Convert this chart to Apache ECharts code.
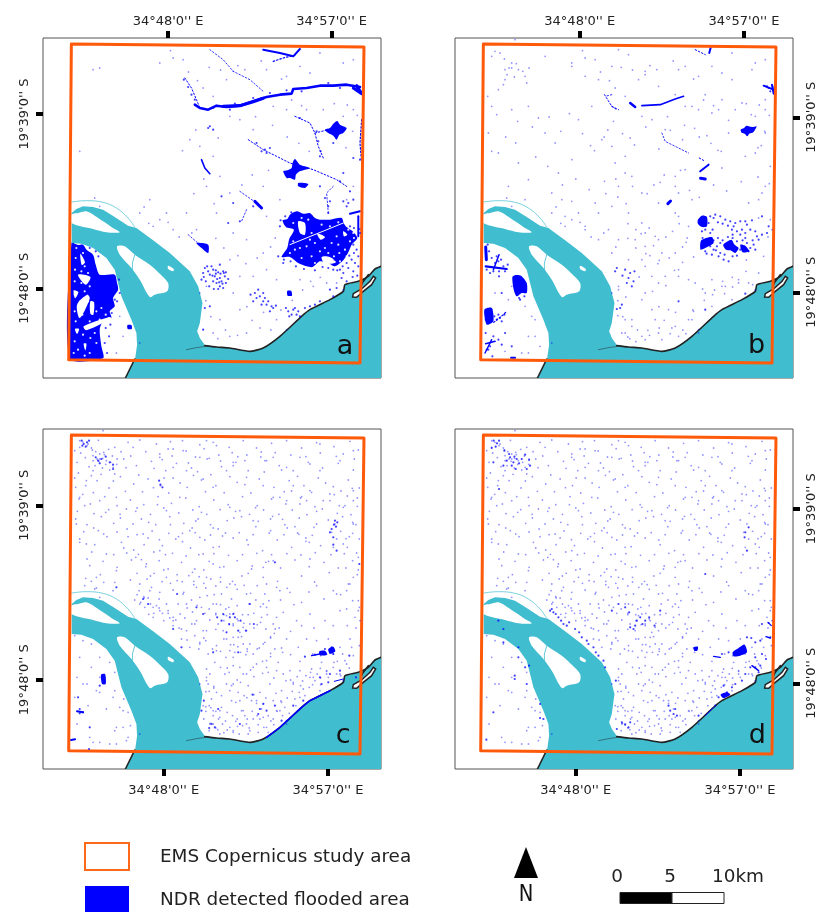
<!DOCTYPE html>
<html><head><meta charset="utf-8">
<style>html,body{margin:0;padding:0;background:#fff;overflow:hidden}#c{width:817px;height:912px;filter:blur(.5px)}</style>
<script src="https://cdn.jsdelivr.net/npm/echarts@6/dist/echarts.min.js"></script>
</head><body><div id="c"></div>
<script>
// ---- Map units: a common raster grid shared by the four panels ----
const lonLabels = ["34°48'0'' E", "34°57'0'' E"];
const latLabels = ["19°39'0'' S", "19°48'0'' S"];
const panelNames = ['a', 'b', 'c', 'd'];
const lonTicksA = [505, 995], lonTicksB = [504, 996], lonTicksC = [492, 984], lonTicksD = [492, 984];
const latTicksA = [343, 866], latTicksB = [353, 878], latTicksC = [344, 867], latTicksD = [354, 878];
const legendLabels = ['EMS Copernicus study area', 'NDR detected flooded area'];
const scaleLabels = ['0', '5', '10km'];

const studyArea = [[215,133],[1092,142],[1080,1090],[207,1080],[215,133]];
const water = [[216,730],[245,732],[280,745],[320,775],[345,810],[355,850],[365,890],[380,925],[395,960],[410,1000],[412,1035],[406,1078],[377,1135],[1143,1135],[1143,800],[1125,808],[1105,830],[1075,845],[1035,855],[1030,875],[990,900],[930,930],[905,950],[840,1010],[790,1045],[750,1055],[690,1045],[650,1042],[615,1036],[600,1015],[592,995],[600,970],[608,910],[595,860],[570,815],[510,760],[460,722],[410,685],[385,678],[345,652],[310,630],[280,622],[250,620],[230,628],[216,640]];
const islandNorth = [[215,645],[235,640],[260,635],[285,648],[310,665],[335,682],[360,698],[320,698],[280,688],[215,670]];
const islandMid = [[352,740],[375,740],[405,765],[450,795],[480,822],[505,850],[502,875],[465,885],[450,892],[420,840],[395,805],[360,765]];
const islandSmall = [[505,798],[522,808],[520,815],[505,808]];
const estuary = [[1060,882],[1085,868],[1110,845],[1120,830],[1127,835],[1115,855],[1090,875],[1070,893],[1058,892],[1060,882]];
const coast = [[615,1038],[650,1042],[690,1045],[750,1055],[790,1045],[840,1010],[905,950],[930,930],[990,900],[1030,875],[1035,855],[1075,845],[1105,830],[1125,808],[1143,800]];
const coastTail = [[560,1050],[590,1044],[618,1040]];
const shoreWest = [[405,1078],[377,1135]];
const estuaryBack = [[1105,825],[1088,848],[1082,862]];
const arc = [[216,607],[260,603],[310,608],[350,625],[385,655],[405,683]];
const channel = [[405,765],[398,790],[398,812]];

// ---- Panel a ----
const polysA = [
 [[975,390],[990,385],[1000,372],[1012,364],[1020,375],[1040,385],[1030,400],[1018,405],[1010,420],[1000,408],[985,400]],
 [[850,515],[862,512],[875,505],[878,490],[885,478],[900,495],[930,505],[900,515],[888,525],[885,540],[870,535],[860,535]],
 [[895,550],[925,553],[915,565],[895,560]],
 [[848,662],[862,658],[870,645],[890,635],[910,642],[930,640],[945,655],[960,660],[990,660],[1025,655],[1032,672],[1040,682],[1058,695],[1072,715],[1055,735],[1045,758],[1030,782],[1005,800],[985,790],[960,785],[938,802],[920,800],[895,790],[870,772],[845,772],[862,745],[868,718],[882,690],[858,682]],
 [[590,730],[625,735],[625,760],[605,745]],
 [[215,730],[235,736],[250,735],[262,752],[280,765],[288,795],[300,825],[345,825],[352,850],[355,870],[340,895],[345,920],[330,935],[335,955],[310,965],[300,990],[305,1040],[310,1076],[210,1076]],
 [[862,874],[874,874],[876,888],[863,888]],
 [[383,976],[395,976],[396,988],[384,988]]
];
const holesA = [
 [[895,665],[915,670],[915,705],[900,700]],[[965,772],[990,772],[1008,788],[975,792]],[[952,702],[975,712],[962,720]],[[1030,695],[1042,705],[1032,710]],
 [[232,915],[262,885],[270,897],[240,955]],[[252,980],[328,952],[336,956],[260,992]],[[235,825],[272,832],[258,855]],[[242,762],[256,788],[246,796]],[[272,905],[283,908],[281,945],[272,942]],[[307,1000],[322,988],[318,1008]],
 [[226,988],[238,988],[232,1003]],[[252,1032],[260,1032],[257,1052]],[[222,872],[236,877],[226,896]]
];
const holeLinesA = [[[870,735],[1030,670]]];
const holeDotsA = [[920,740],[935,770],[905,775],[885,750],[945,730],[975,745],[995,730],[1015,735],[1040,670],[1015,668],[990,680],[965,675],[925,660],[905,655],[880,670],[960,755],[900,745],[880,725],[1060,700],[1040,770],[1020,785],[900,680],[935,700],[985,760],[1010,710],[870,760],[945,790],[930,720],[1050,725],[1035,750],[1062,715],[1045,690],[1018,760],[1002,770],[230,745],[228,775],[250,760],[226,810],[245,815],[255,800],[265,820],[225,845],[245,850],[270,860],[255,875],[225,885],[242,905],[265,905],[225,935],[248,945],[270,965],[290,935],[305,925],[228,965],[250,1005],[225,1025],[235,1050],[272,1015],[285,1000],[290,1030],[270,1060],[300,960],[318,945],[222,1060],[255,1068]];
const linesA = [
 {w:2.6,p:[[585,315],[600,325],[625,330],[650,318],[680,322],[720,318],[760,305],[800,292],[840,285],[875,282],[880,268],[920,265],[960,258],[1000,258],[1040,255],[1080,262]]},
 {w:3.2,p:[[670,320],[720,318],[760,306],[790,296]]},
 {w:3,p:[[1060,265],[1085,282],[1070,258]]},
 {w:1,p:[[555,235],[575,265],[590,300],[600,325]]},
 {w:.8,p:[[630,150],[670,180],[700,215],[750,240],[790,275]]},
 {w:2,p:[[790,150],[840,160],[880,170],[900,148]]},
 {w:1.2,p:[[820,185],[850,175],[890,165]]},
 {w:1,p:[[885,350],[930,370],[945,400],[955,440],[970,475]]},
 {w:1,p:[[945,400],[985,390]]},
 {w:1,p:[[745,420],[790,450],[830,470],[870,490],[940,510],[1010,540],[1040,560]]},
 {w:.8,p:[[1000,560],[980,580],[985,640]]},
 {w:1.6,p:[[605,480],[615,505],[630,522]]},
 {w:.8,p:[[720,575],[770,610]]},{w:3,p:[[765,605],[785,625]]},{w:.8,p:[[740,630],[725,665]]},
 {w:1.2,p:[[1085,360],[1080,430],[1085,490]]},{w:2,p:[[1050,642],[1080,635]]},{w:2,p:[[1075,650],[1075,710]]},
 {w:.8,p:[[565,705],[600,735],[625,760]]}
];
const dotsA = [[615,805],[625,815],[640,810],[655,818],[670,815],[675,830],[660,835],[645,830],[630,825],[650,850],[660,860],[670,865],[665,845],[640,845],[610,820],[635,800],[678,850],[655,868],[622,800],[648,822],[765,880],[780,890],[790,905],[800,915],[815,920],[775,870],[785,915],[805,905],[795,895],[770,895],[820,925],[790,880],[865,935],[880,930],[890,945],[875,945],[895,935],[885,925],[930,920],[945,915],[960,905],[1000,890],[1040,845],[1030,820],[1060,815],[1075,800],[1020,810],[1045,805],[1030,605],[1045,610],[1060,600],[1040,620],[700,610],[760,620],[665,590],[685,670],[720,665],[630,380],[640,390],[625,385],[795,450],[800,460],[810,445],[785,455],[770,430],[900,355],[960,470],[985,640],[975,595],[960,560],[1020,545],[1080,480],[1060,475],[630,920],[615,925],[610,990],[1055,780],[1065,790],[1040,790],[1000,810],[985,805],[1070,750],[1060,735],[1080,700],[835,770],[850,790],
[1062,760],[1048,768],[1075,770],[1028,800],[1012,812],[968,802],[945,812],[912,808],[888,800],[872,785],[852,780],[842,662],[856,650],[874,638],[840,680],[1050,680],[1062,685],[1078,688],[345,900],[352,905],[332,975],[318,985],[328,1010],[315,1030],[322,1060],[336,940],[360,880],[358,840],[296,770],[288,755],[270,745],[605,840],[618,845],[628,860],[642,868],[612,832],[672,820],[685,838],[660,795],[760,905],[752,885],[810,935],[828,918],[858,925],[868,950],[900,950],[915,925],[990,870],[1010,865],[1025,835],[1058,832],[1072,828],[585,300],[575,285],[565,262],[552,240],[640,325],[690,330],[705,312],[760,295],[810,280],[860,272],[905,275],[985,250],[1020,265],[950,395],[955,425],[962,455],[1000,430],[1030,520],[1050,575],[985,620],[990,605],[652,838],[638,828],[668,852],[658,848],[662,822],[648,812],[678,818]];
const specksA = [[280,210],[300,205],[240,455],[480,190],[520,175],[550,180],[700,215],[735,210],[680,240],[610,265],[640,290],[820,320],[860,330],[920,330],[970,330],[1030,350],[1060,330],[690,350],[720,360],[760,390],[570,420],[600,440],[640,470],[660,530],[690,580],[620,560],[560,640],[500,640],[450,600],[420,640],[480,660],[520,690],[460,680],[590,690],[650,640],[700,700],[740,720],[790,760],[690,780],[720,830],[760,830],[800,810],[830,840],[700,880],[720,930],[660,960],[640,1000],[690,1010],[740,1000],[780,985],[830,960],[860,990],[600,880],[620,860],[940,860],[980,850],[1010,850],[900,840],[1060,560],[1040,600],[790,560],[840,600],[800,650],[300,620],[285,595],[420,1030],[360,950],[370,1010],[350,1060],[1060,180],[1030,190],[960,160],[900,200],[930,220],[860,230],[800,210],
[433,622],[447,671],[505,668],[538,712],[576,700],[612,742],[648,716],[672,745],[714,768],[738,792],[772,775],[812,742],[826,715],[618,903],[633,951],[654,1017],[677,991],[713,1007],[757,962],[741,921],[791,938],[813,991],[843,931],[877,902],[908,871],[932,845],[961,833],[1003,781],[1029,871],[512,153],[566,217],[593,243],[628,203],[662,211],[714,198],[784,184],[845,238],[875,301],[905,318],[1003,312],[1042,316],[1072,347],[1058,395],[1038,444],[928,455],[897,431],[862,412],[818,377],[767,351],[655,415],[588,391],[548,453],[612,538],[582,582],[643,612],[726,556],[757,526],[806,512]];

// ---- Panel b ----
const polysB = [
 [[986,390],[996,385],[1004,378],[1020,382],[1034,380],[1024,398],[1012,402],[1006,410],[998,402],[990,400]],
 [[858,660],[870,648],[885,652],[885,680],[870,682],[858,672]],
 [[934,735],[958,720],[968,735],[980,745],[970,760],[955,752],[942,750]],
 [[302,832],[312,826],[328,828],[345,850],[345,880],[330,880],[315,890],[306,870]],
 [[868,722],[900,712],[905,730],[880,745],[866,750]],
 [[218,930],[240,925],[245,965],[225,975]],
 [[985,735],[1000,738],[1012,755],[992,758]]
];
const linesB = [
 {w:1,p:[[578,285],[600,320],[620,330]]},{w:2.4,p:[[655,310],[670,322]]},{w:1.6,p:[[690,318],[745,315],[790,298],[815,290]]},
 {w:2,p:[[865,515],[890,495]]},{w:3,p:[[866,536],[880,538]]},{w:1,p:[[862,475],[880,485]]},{w:3,p:[[768,612],[776,604]]},
 {w:2,p:[[896,145],[892,160]]},{w:1,p:[[850,150],[880,165]]},{w:2,p:[[1055,258],[1085,270]]},{w:2,p:[[1080,255],[1085,282]]},
 {w:3,p:[[222,742],[224,780]]},{w:2.2,p:[[222,800],[285,808]]},{w:1.5,p:[[245,810],[262,765]]},{w:1.6,p:[[222,1032],[250,1025]]},{w:1.4,p:[[220,1060],[240,1020]]},{w:2,p:[[298,1074],[310,1074]]},
 {w:.8,p:[[750,400],[760,425],[800,445],[830,460]]},{w:.8,p:[[600,285],[580,290]]},{w:1.2,p:[[246,968],[275,945],[285,935]]},{w:1,p:[[600,320],[612,328]]}
];
const dotsB = [[895,650],[910,645],[925,650],[940,660],[955,665],[970,670],[985,665],[1000,665],[1020,662],[960,690],[965,680],[985,705],[1000,700],[880,735],[895,740],[905,750],[915,740],[925,730],[945,745],[985,750],[1000,745],[1010,755],[1025,735],[1040,720],[880,755],[920,770],[950,785],[935,780],[895,700],[1000,715],[1070,680],[1050,650],[1030,695],[1015,690],[655,820],[640,810],[615,805],[660,860],[650,835],[625,925],[615,928],[630,915],[260,785],[250,790],[275,800],[235,820],[280,815],[262,830],[240,930],[255,960],[270,965],[260,945],[230,1050],[245,1010],[270,1035],[300,1040],[280,1000],[222,960],[270,880],[325,900],[880,930],[800,905],[1000,882],[1065,260],
[872,715],[888,718],[905,722],[918,715],[932,722],[948,712],[962,715],[975,725],[992,722],[1005,730],[1022,722],[1035,710],[1050,705],[1065,700],[870,742],[884,762],[900,765],[912,752],[925,760],[938,765],[962,770],[975,768],[1015,745],[1030,750],[905,655],[918,668],[932,672],[948,678],[962,705],[975,695],[990,690],[1005,675],[890,670],[902,690],[880,690],[870,695],[668,815],[632,828],[645,850],[665,845],[610,815],[1070,265],[1082,262],[1075,275],[228,735],[232,755],[240,775],[255,770],[268,780],[288,795],[225,810],[245,815],[262,815],[228,945],[235,955],[248,950],[265,955],[278,945],[222,1000],[235,1040],[225,1050],[260,1020],[242,1070],[338,890],[322,895]];
const specksB = [[250,155],[265,160],[240,170],[300,190],[320,210],[340,230],[280,240],[260,270],[240,320],[300,330],[350,320],[380,355],[320,490],[350,540],[440,520],[480,480],[430,430],[400,400],[500,360],[540,320],[560,240],[610,490],[640,520],[620,150],[650,165],[700,225],[740,260],[790,285],[840,320],[880,285],[900,340],[950,400],[1000,470],[1030,460],[930,505],[820,510],[800,580],[740,610],[690,670],[670,720],[700,740],[730,710],[750,760],[790,640],[830,680],[1075,660],[1080,690],[1050,580],[1010,610],[600,620],[550,610],[480,605],[460,650],[520,680],[560,720],[600,760],[620,720],[650,780],[700,800],[740,850],[800,830],[850,850],[880,880],[930,860],[980,840],[1040,820],[960,900],[900,920],[840,960],[860,1000],[790,980],[770,930],[730,960],[690,900],[660,980],[630,1000],[640,960],[700,1020],[750,1020],[800,1010],[620,870],[230,400],[260,460],[290,560],[340,600],[420,580],[310,120],[400,170],[480,200],[520,230],[600,200],[820,200],[960,240],[1020,210],[1060,300],[930,300],[990,310],[1060,400],[1075,500],[300,860],[340,920],[370,960],[385,1040],[350,1010],[330,1060],[280,1055],[250,880],[290,900],
[278,178],[292,205],[314,192],[333,215],[352,205],[286,225],[308,232],[275,255],[345,250],[228,290],[255,345],[318,365],[362,382],[412,352],[447,395],[473,342],[512,402],[536,438],[577,412],[605,365],[632,402],[668,436],[702,382],[741,448],[775,392],[812,420],[848,386],[885,408],[918,452],[950,362],[1018,345],[1048,438],[1072,552],[1038,532],[988,546],[944,574],[905,556],[862,593],[833,572],[790,530],[745,548],[706,582],[662,560],[618,592],[578,545],[532,570],[492,538],[452,556],[408,500],[372,472],[312,430],[282,412],[648,672],[672,690],[688,702],[712,685],[725,738],[702,762],[742,782],[762,712],[782,695],[802,672],[823,728],[845,772],[812,788],[788,812],[762,858],[722,875],[682,832],[642,892],[618,948],[648,1012],[672,1026],[708,992],[742,985],[775,1002],[822,1002],[845,935],[872,868],[902,885],[938,882],[962,862],[1002,815],[1022,855],[1055,770],[1068,712],[1040,655]];

// ---- Panels c and d share the speckle field ----
const fieldSpecks = [[240,150],[262,165],[225,180],[280,195],[312,185],[345,170],[385,155],[420,148],[470,160],[505,175],[548,150],[600,162],[640,155],[688,170],[730,150],[770,172],[815,158],[860,150],[905,172],[950,156],[1002,168],[1050,152],[1075,178],
[232,215],[268,228],[298,212],[330,238],[372,205],[410,225],[455,212],[498,240],[530,218],[575,232],[622,205],[665,228],[708,215],[745,240],[795,210],[838,225],[880,240],[925,215],[968,232],[1015,218],[1060,238],
[225,262],[258,285],[292,270],[328,292],[362,258],[402,280],[445,265],[482,285],[520,262],[562,290],[605,268],[648,285],[690,258],[735,282],[778,265],[822,290],[868,270],[912,285],[955,262],[1000,288],[1045,268],[1078,292],
[238,325],[272,340],[315,318],[352,345],[392,328],[432,342],[475,318],[515,338],[558,322],[598,348],[642,328],[685,342],[728,318],[772,345],[815,325],[858,340],[902,322],[945,348],[990,330],[1035,345],[1072,322],
[228,385],[262,402],[305,378],[342,398],[382,415],[425,385],[468,402],[510,378],[552,398],[595,385],[640,412],[682,390],[725,378],[768,408],[812,385],[855,402],[898,382],[942,410],[985,388],[1005,400],[1028,378],[1068,402],
[240,445],[285,462],[322,438],[365,455],[402,478],[445,442],[488,465],[528,445],[572,472],[615,448],[658,468],[700,442],[745,462],[788,480],[832,448],[875,470],[918,442],[962,465],[995,425],[1010,445],[1042,470],[1078,445],
[262,505],[270,525],[310,512],[352,530],[395,508],[438,528],[478,510],[505,535],[545,515],[585,535],[628,512],[672,528],[712,510],[755,535],[798,515],[842,532],[885,508],[928,528],[972,515],[1015,532],[1058,510],[1075,538],
[255,585],[290,592],[345,575],[392,568],[418,600],[432,618],[455,590],[478,625],[500,560],[520,598],[535,640],[552,605],[575,628],[590,590],[605,650],[622,615],[640,640],[665,610],[678,655],[695,625],[712,645],[728,672],[748,640],[772,585],[795,610],[830,590],[870,605],[905,635],[950,585],[1000,600],[1045,580],[1075,630],
[405,628],[435,650],[462,668],[492,690],[520,705],[545,715],[470,645],[505,660],[555,682],[585,700],[610,720],[630,688],[655,700],[680,675],[700,705],[720,725],[750,700],[785,680],[820,700],[850,665],[890,690],[930,670],[975,690],[1020,660],[1065,680],[1078,650],
[545,745],[570,770],[600,755],[625,790],[650,765],[680,745],[705,785],[730,760],[760,790],[795,755],[825,775],[860,745],[895,770],[920,745],[950,750],[985,745],[1020,770],[1050,745],[1078,765],
[620,835],[645,815],[675,850],[700,825],[730,850],[770,820],[805,845],[835,815],[870,840],[900,812],[935,835],[965,815],[1000,830],[1035,810],[1060,795],
[625,880],[650,905],[680,880],[715,905],[745,885],[780,905],[810,880],[845,900],[880,875],[910,895],[945,870],[985,860],[1020,850],
[610,945],[635,925],[665,950],[695,930],[725,960],[755,930],[785,955],[820,930],[855,950],[885,925],[915,915],
[612,985],[640,975],[668,1000],[698,975],[728,1005],[760,985],[792,1010],[820,985],[848,975],[628,1020],[660,1030],[700,1025],[745,1030],
[225,735],[250,750],[275,760],[300,800],[330,815],[345,845],[240,800],[275,830],[232,860],[262,880],[300,905],[345,900],[372,925],[225,920],[265,945],[320,955],[385,965],[392,1005],[232,1000],[270,1040],[300,1055],[345,1020],[380,1050],
[243,187],[257,201],[275,172],[288,183],[296,149],[309,203],[318,221],[327,176],[338,196],[351,221],[364,183],[379,231],[393,196],[438,183],[463,233],[487,207],[517,196],[559,181],[587,199],[613,174],[657,193],[697,186],[741,193],[783,199],[826,186],[873,193],[918,198],[961,187],[1009,197],[1063,205],
[236,247],[249,311],[281,306],[304,251],[341,271],[377,302],[417,253],[428,303],[461,291],[493,262],[507,307],[541,277],[581,254],[617,303],[633,252],[673,306],[712,275],[753,307],[793,244],[853,303],[893,257],[935,305],[977,277],[1023,301],[1057,293],
[233,362],[283,369],[327,357],[361,371],[408,362],[452,371],[492,352],[537,367],[579,358],[621,371],[661,357],[707,362],[749,371],[791,358],[837,371],[877,358],[921,372],[967,355],[1012,368],[1053,372],
[252,423],[296,420],[352,424],[385,438],[412,432],[433,462],[457,421],[479,447],[507,428],[548,428],[586,426],[632,433],[677,427],[718,426],[760,432],[808,427],[852,432],[893,427],[937,434],[1022,422],[1058,428],
[276,484],[342,492],[381,487],[416,491],[425,507],[462,484],[497,492],[518,488],[559,496],[597,492],[642,489],[686,494],[728,492],[771,488],[815,492],[861,489],[903,493],[946,486],[993,492],[1033,489],[1070,487],
[258,563],[275,572],[302,552],[312,575],[412,548],[442,565],[463,548],[487,573],[512,578],[532,552],[547,573],[567,555],[582,572],[598,558],[612,578],[633,565],[648,586],[662,574],[681,590],[698,572],[712,596],[733,584],[752,608],[768,628],[782,648],[807,630],[842,628],[882,642],[927,604],[972,625],[1022,612],[1058,630],
[412,612],[423,635],[445,622],[452,640],[478,652],[488,668],[510,682],[528,688],[541,670],[562,652],[578,664],[592,644],[615,668],[628,655],[648,668],[662,642],[672,672],[687,650],[702,668],[715,690],[732,698],[745,672],[762,668],[772,702],[798,715],[812,738],[838,712],[872,722],[905,705],[942,712],[1000,705],[1042,705],
[562,748],[585,735],[597,775],[618,750],[638,775],[662,782],[678,800],[692,762],[715,740],[722,785],[742,775],[778,772],[812,798],[848,785],[872,792],[938,790],[962,795],[1000,790],[1028,790],
[630,850],[662,830],[688,845],[712,868],[752,838],[788,848],[822,862],[858,870],[892,858],[918,855],[952,850],[980,842],[1012,812],[1048,832],
[628,902],[642,887],[665,915],[695,885],[708,935],[733,915],[762,912],[770,938],[798,922],[828,908],[862,922],[898,905],[928,890],[962,882],
[618,962],[628,945],[648,962],[656,985],[682,965],[712,985],[735,975],[748,1012],[772,975],[805,975],[832,962],[868,968],[888,945],[632,998],[682,1018],[718,1030],[775,1025],[805,1025]];
const polysC = [[[958,782],[975,780],[982,792],[960,794]],[[304,852],[316,850],[318,880],[307,880]],[[1062,884],[1078,872],[1075,888]],[[985,775],[1000,768],[1006,782],[990,790]]];
const linesC = [{w:1.6,p:[[800,1040],[840,1010],[905,950],[930,930],[990,900]]},{w:1,p:[[1003,872],[1030,865]]},{w:2,p:[[232,962],[250,965]]},{w:2,p:[[214,1048],[226,1046]]},{w:1.4,p:[[935,795],[960,790]]}];
const dotsC = [[246,150],[252,160],[262,155],[258,168],[295,210],[305,205],[300,218],[340,222],[340,235],[482,282],[1005,390],[1012,395],[1000,462],[825,515],[990,425],[680,725],[690,680],[670,670],[715,785],[715,720],[545,770],[635,1000],[645,1010],[780,955],[775,970],[240,955],[250,965],[240,968],[268,1075],[1000,790],[995,770],[975,775],[945,792],[915,798],[910,930],[880,945],[845,990],[700,670],[350,590],[270,1010],[965,880],[985,875],
[248,165],[268,150],[288,200],[330,215],[318,198],[478,270],[488,290],[1002,402],[1008,408],[995,415],[1000,440],[1010,480],[1078,520],[532,610],[590,650],[610,670],[652,680],[665,690],[688,700],[705,680],[722,690],[738,720],[750,640],[762,700],[640,785],[605,960],[612,930],[655,955],[628,1012],[758,912],[790,940],[800,960],[825,945],[720,1000],[960,860],[990,850],[1020,840],[1048,795],[430,625],[445,640],[520,715],[300,885],[235,920],[1068,860]];
const polysD = [[[962,785],[980,772],[998,762],[1005,785],[985,795],[965,797]],[[845,770],[858,768],[856,780],[847,780]],[[926,912],[945,905],[955,912],[935,922]]];
const linesD = [{w:1.4,p:[[905,797],[925,800]]},{w:1.4,p:[[1020,825],[1040,840]]},{w:1.2,p:[[1068,695],[1078,705]]},{w:1.4,p:[[1062,738],[1075,742]]},{w:1,p:[[880,975],[905,950]]},{w:1.6,p:[[1060,892],[1075,878]]}];
const dotsD = [[246,150],[256,158],[262,150],[252,168],[240,172],[295,200],[305,215],[315,205],[300,225],[330,205],[345,235],[355,225],[262,295],[1000,425],[1005,480],[880,550],[415,660],[425,665],[440,680],[455,700],[465,705],[510,740],[525,750],[545,770],[560,795],[575,810],[670,705],[665,715],[685,680],[700,690],[655,710],[309,855],[309,865],[385,982],[395,985],[640,1002],[650,1010],[775,960],[785,970],[224,1047],[945,905],[970,880],[1030,830],[1040,845],[1050,790],[1075,740],[1070,697],[910,945],[860,975],[245,965],[275,755],[345,880],
[285,210],[292,190],[308,198],[322,218],[340,192],[352,208],[312,235],[275,225],[245,215],[278,180],[420,655],[432,670],[448,690],[472,695],[490,715],[502,725],[530,760],[552,785],[580,830],[612,870],[620,640],[640,650],[652,665],[675,690],[692,700],[712,680],[728,705],[745,660],[1010,410],[998,440],[1045,750],[1030,800],[1015,830],[1000,850],[990,870],[960,890],[935,885],[920,920],[1062,805],[1045,825],[1030,755],[1018,742],[1005,740],[950,785],[930,790],[1050,700],[630,995],[615,1015],[655,995],[770,945],[790,955],[795,975],[260,690],[275,715],[320,770],[340,830],[352,825],[385,940],[320,800],[600,660]];

// ---- Chart construction ----
const ORANGE = '#ff5a0a', BLUE = '#0000ff', WATER = '#41bdd0';
const panels = [
 {left:43,  top:38,  lon:lonTicksA, lat:latTicksA, xPos:'top',    yPos:'left',  polys:polysA, holes:holesA, holeLines:holeLinesA, holeDots:holeDotsA, lines:linesA, dots:dotsA, specks:specksA, letter:[1035,1043]},
 {left:455, top:38,  lon:lonTicksB, lat:latTicksB, xPos:'top',    yPos:'right', polys:polysB, holes:[], holeLines:[], holeDots:[], lines:linesB, dots:dotsB, specks:specksB.concat(specksA), letter:[1034,1040]},
 {left:43,  top:429, lon:lonTicksC, lat:latTicksC, xPos:'bottom', yPos:'left',  polys:polysC, holes:[], holeLines:[], holeDots:[], lines:linesC, dots:dotsC, specks:fieldSpecks.concat(specksB, specksA), letter:[1030,1037]},
 {left:455, top:429, lon:lonTicksD, lat:latTicksD, xPos:'bottom', yPos:'right', polys:polysD, holes:[], holeLines:[], holeDots:[], lines:linesD, dots:dotsD, specks:fieldSpecks.concat(specksB, specksA), letter:[1036,1037]}
];
const W = 338, H = 340;
const textStyle = {color:'#222', fontFamily:'DejaVu Sans', fontSize:13};
const option = {animation:false, backgroundColor:'#fff', grid:[], xAxis:[], yAxis:[], series:[], graphic:[]};

function polySeries(g, list, style, smooth) {
  return {type:'custom', xAxisIndex:g, yAxisIndex:g, silent:true, clip:true,
    data:list.map(p => p[0]),
    renderItem:(params, api) => ({type:'polygon', shape:{points:list[params.dataIndex].map(q => api.coord(q)), smooth:smooth || 0}, style})};
}
function lineSeries(g, list, color) {
  return {type:'custom', xAxisIndex:g, yAxisIndex:g, silent:true, clip:true,
    data:list.map(l => l.p[0]),
    renderItem:(params, api) => {const l = list[params.dataIndex];
      return {type:'polyline', shape:{points:l.p.map(q => api.coord(q)), smooth:l.s || 0},
        style:{stroke:color, fill:null, lineWidth:l.w, lineJoin:'round', lineCap:'round', opacity:l.o == null ? 1 : l.o, lineDash:l.d || null}};}};
}
function dotSeries(g, data, size, opacity, color) {
  return {type:'scatter', xAxisIndex:g, yAxisIndex:g, silent:true, data, symbol:'circle', symbolSize:size,
    itemStyle:{color:color || BLUE, opacity}};
}
panels.forEach((p, g) => {
  option.grid.push({left:p.left, top:p.top, width:W, height:H, show:true, borderColor:'#555', borderWidth:1, backgroundColor:'#fff', outerBoundsMode:'none', containLabel:false});
  const labels = (names, ticks) => v => names[ticks.indexOf(v)] || '';
  option.xAxis.push({type:'value', gridIndex:g, min:130, max:1143, position:p.xPos,
    axisLine:{show:false}, splitLine:{show:false},
    axisTick:{show:true, customValues:p.lon, length:7, lineStyle:{color:'#000', width:4}},
    axisLabel:{...textStyle, customValues:p.lon, margin:p.xPos === 'top' ? 10 : 15, formatter:labels(lonLabels, p.lon), hideOverlap:false}});
  option.yAxis.push({type:'value', gridIndex:g, min:115, max:1135, inverse:true, position:p.yPos,
    axisLine:{show:false}, splitLine:{show:false},
    axisTick:{show:true, customValues:p.lat, length:7, lineStyle:{color:'#000', width:4}},
    axisLabel:{...textStyle, customValues:p.lat, rotate:90, margin:p.yPos === 'left' ? 12 : 12, formatter:labels(latLabels, p.lat), hideOverlap:false}});
  option.series.push(dotSeries(g, p.specks, 1.8, .42));
  option.series.push(polySeries(g, p.polys, {fill:BLUE}, .25));
  if (p.holes.length) option.series.push(polySeries(g, p.holes, {fill:'#fff'}, .3));
  if (p.holeLines.length) option.series.push(lineSeries(g, p.holeLines.map(l => ({w:1, p:l})), '#fff'));
  if (p.holeDots.length) option.series.push(dotSeries(g, p.holeDots, 2.2, .9, '#fff'));
  if (g < 2) option.series.push(lineSeries(g, p.lines.map(l => l.w <= 1.2 ? {...l, d:[1.5,2]} : l), BLUE));
  option.series.push(dotSeries(g, p.dots, 2.2, .75));
  option.series.push(polySeries(g, [water], {fill:WATER}));
  option.series.push(polySeries(g, [islandNorth, islandMid, islandSmall], {fill:'#fff'}, .3));
  option.series.push(lineSeries(g, [{w:1, p:arc, o:.7, s:.4}, {w:1, p:channel, o:.8}], WATER));
  option.series.push(lineSeries(g, [{w:1.6, p:coast, s:.2}, {w:1.6, p:shoreWest}, {w:.8, p:coastTail, o:.6}, {w:1.6, p:estuaryBack}], '#222'));
  if (g >= 2) option.series.push(lineSeries(g, p.lines, BLUE));
  option.series.push(polySeries(g, [estuary], {fill:'#fff', stroke:'#222', lineWidth:1.5}));
  option.series.push(lineSeries(g, [{w:3, p:studyArea}], ORANGE));
  option.series.push({type:'custom', xAxisIndex:g, yAxisIndex:g, silent:true, data:[p.letter],
    renderItem:(params, api) => {const c = api.coord(p.letter);
      return {type:'text', x:c[0], y:c[1], style:{text:panelNames[g], fill:'#111', font:'27px "DejaVu Sans"', textAlign:'center', textVerticalAlign:'middle'}};}});
});

// legend, north arrow, scale bar
const legText = {fill:'#222', font:'18.4px "DejaVu Sans"', textVerticalAlign:'middle'};
option.graphic = [
 {type:'rect', shape:{x:85,y:843,width:44,height:27}, style:{fill:'#fff', stroke:'#ff6a1a', lineWidth:2}},
 {type:'rect', shape:{x:85,y:886,width:44,height:27}, style:{fill:BLUE}},
 {type:'text', x:160, y:857, style:{...legText, text:legendLabels[0]}},
 {type:'text', x:160, y:900, style:{...legText, text:legendLabels[1]}},
 {type:'polygon', shape:{points:[[526,847],[514,878],[538,878]]}, style:{fill:'#000'}},
 {type:'text', x:526, y:895, scaleX:.85, style:{text:'N', fill:'#111', font:'23px "DejaVu Sans"', textAlign:'center', textVerticalAlign:'middle'}},
 {type:'rect', shape:{x:620,y:892.5,width:52,height:11}, style:{fill:'#000', stroke:'#222', lineWidth:1}},
 {type:'rect', shape:{x:672,y:892.5,width:52,height:11}, style:{fill:'#fff', stroke:'#222', lineWidth:1}},
 {type:'text', x:617, y:877, style:{...legText, text:scaleLabels[0], textAlign:'center'}},
 {type:'text', x:670, y:877, style:{...legText, text:scaleLabels[1], textAlign:'center'}},
 {type:'text', x:738, y:877, style:{...legText, text:scaleLabels[2], textAlign:'center'}}
];
echarts.init(document.getElementById('c'), null, {renderer:'canvas'}).setOption(option);
</script></body></html>
